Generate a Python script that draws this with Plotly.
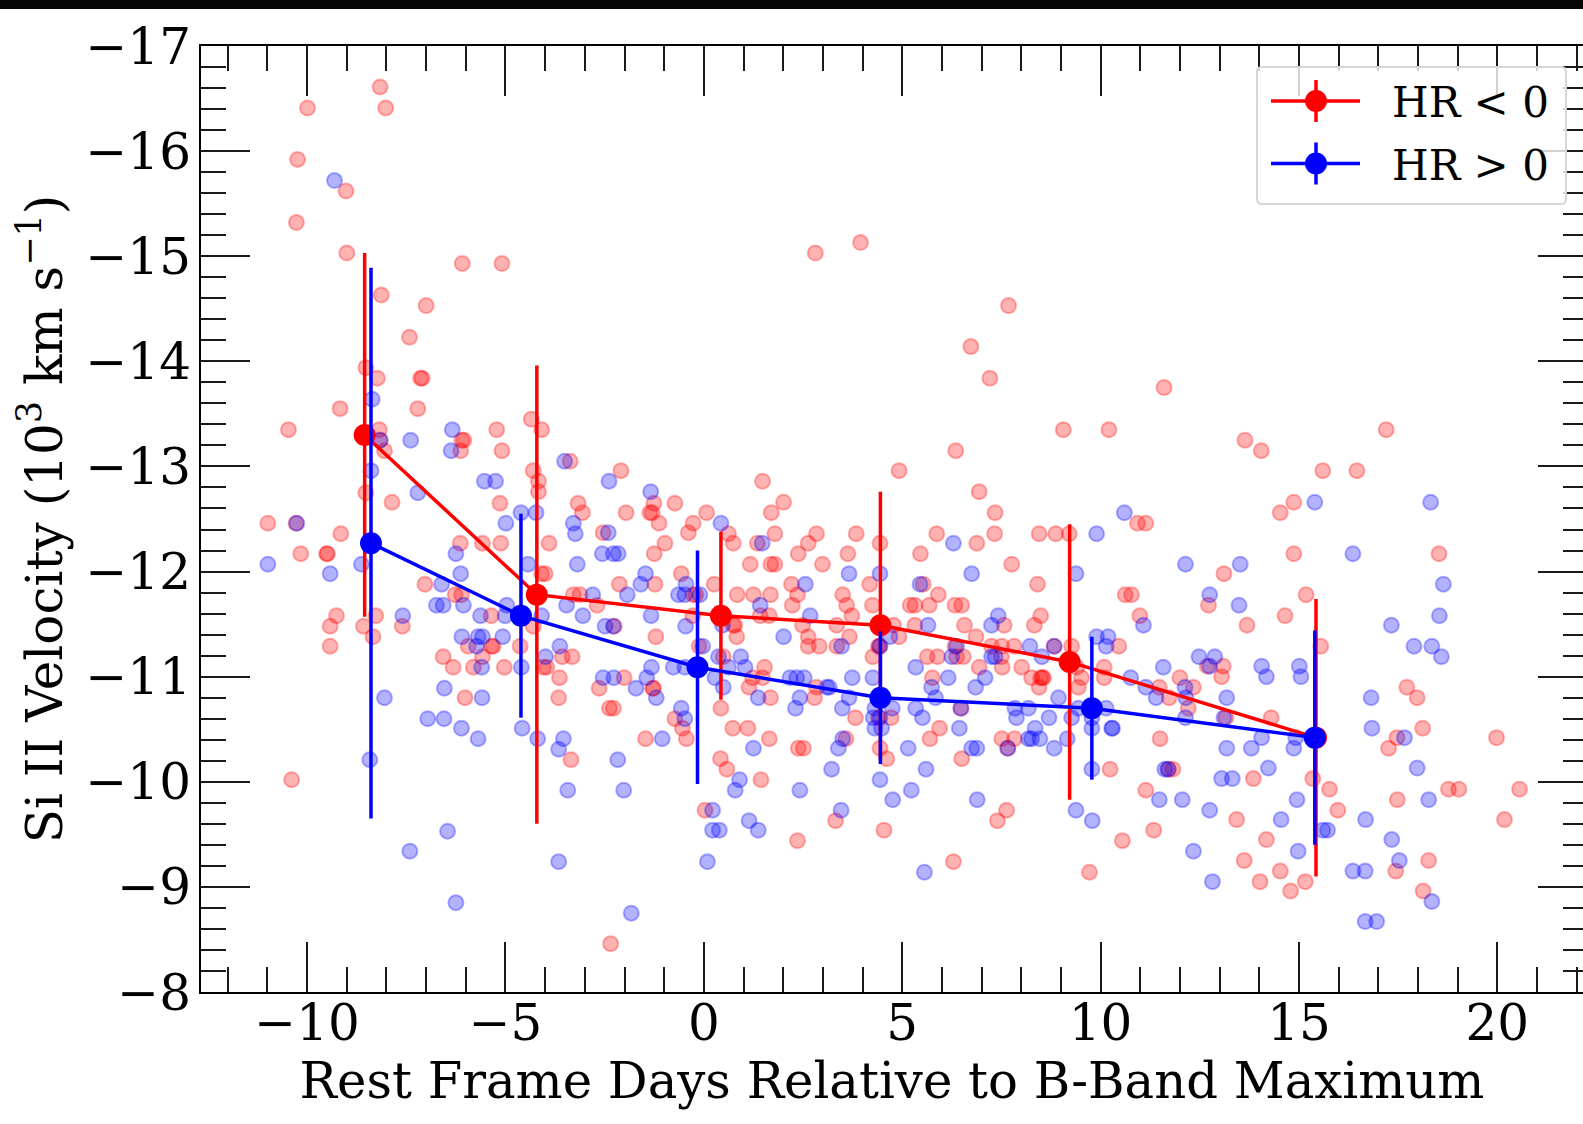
import plotly.graph_objects as go

red_x = [-8.16,-8.02,-9.99,-10.24,-9.02,-10.27,-9.0,-6.09,-5.09,-8.13,-7.0,-7.42,-8.52,-8.23,-7.14,-7.10,-9.17,-7.21,-10.47,-8.18,-5.22,-8.16,-6.1,-6.05,-6.13,-8.05,-5.09,-8.52,-7.86,
 -4.35,-4.09,-3.37,-4.30,-2.09,-4.17,-4.17,
 -10.99,-10.28,-9.15,-10.16,-9.51,-9.49,-9.26,-9.42,-8.58,-8.27,-8.34,-7.60,-9.42,-10.39,-6.14,-5.58,-5.12,-3.90,-5.14,-3.17,-3.06,-1.96,-1.36,-1.30,-1.26,-0.73,-2.54,-1.13,-0.27,-0.39,-0.98,-1.25,-0.57,-2.13,-1.23,-7.03,-6.27,-6.11,-4.09,-4.0,-3.29,-3.12,-2.69,-5.36,-4.30,-2.26,-1.21,-0.12,-0.27,-0.20,-0.28,-5.94,-5.35,-5.31,-4.63,-5.58,-6.57,-6.32,-5.81,-5.03,-4.04,-3.96,-3.57,-3.32,-3.64,-2.01,-2.64,-1.29,-1.27,-6.02,-3.66,-2.38,-2.28,-0.73,-0.54,-1.47,-0.44,-3.35,-2.35,
 0.62,0.74,1.35,1.79,2.84,2.63,3.84,4.44,5.87,6.88,7.33,8.45,8.87,9.21,10.93,11.14,2.38,3.63,5.46,1.17,1.69,1.79,2.99,7.76,0.26,2.21,4.18,5.53,8.41,10.62,10.78,0.84,1.25,1.68,2.36,3.50,5.91,2.23,3.60,4.25,5.20,5.32,5.68,6.33,6.50,1.42,1.65,3.73,8.49,10.99,2.49,3.35,4.78,5.32,6.57,7.57,8.33,0.74,0.78,0.83,2.63,3.67,4.92,6.86,2.63,2.91,3.35,4.40,4.43,6.33,7.25,7.51,7.82,8.83,9.27,10.46,5.63,5.89,6.37,6.54,4.26,7.50,0.49,1.53,6.94,7.52,8.01,9.40,10.09,5.76,1.23,1.48,8.26,8.49,8.53,8.56,9.52,10.09,12.0,1.14,2.84,8.45,9.44,11.48,12.34,1.68,2.79,11.73,0.43,6.48,12.21,3.82,4.40,4.72,0.73,1.11,5.94,1.65,3.58,5.70,7.51,7.83,11.5,2.38,2.51,4.44,7.66,0.42,4.61,6.50,0.58,10.24,11.71,11.82,1.44,11.14,0.03,7.63,3.32,7.40,4.54,11.34,2.36,10.55,6.29,9.72,4.92,1.48,2.01,1.70,0.07,6.94,7.34,
 17.2,13.64,14.05,15.6,16.46,14.87,14.53,14.87,18.53,13.11,15.18,12.72,14.65,13.69,15.55,12.69,13.09,13.05,17.72,17.98,13.16,14.30,18.12,17.47,19.98,17.26,13.85,15.35,15.77,18.77,19.03,20.56,17.48,15.98,13.43,20.18,14.18,13.62,18.27,14.53,17.44,14.02,15.16,14.79,18.13,
 2.81,3.95,7.68,6.73,7.21,11.60,9.06,10.21,6.35]
red_y = [-16.61,-16.41,-16.41,-15.92,-15.62,-15.32,-15.03,-14.93,-14.93,-14.63,-14.53,-14.23,-13.94,-13.84,-13.84,-13.84,-13.55,-13.55,-13.35,-13.35,-13.35,-13.25,-13.25,-13.25,-13.15,-13.15,-13.15,-12.75,-12.66,
 -13.45,-13.35,-13.05,-12.96,-12.96,-12.86,-12.76,
 -12.46,-12.46,-12.36,-12.17,-12.17,-12.17,-11.58,-11.48,-11.48,-11.58,-11.38,-11.48,-11.29,-10.02,-12.27,-12.27,-12.27,-12.27,-12.65,-12.65,-12.56,-12.56,-12.56,-12.56,-12.65,-12.65,-12.37,-12.46,-12.46,-12.37,-12.27,-12.17,-11.98,-11.88,-11.88,-11.88,-11.78,-11.78,-11.98,-11.98,-11.78,-11.78,-11.68,-11.58,-11.48,-11.48,-11.38,-11.29,-11.78,-11.78,-11.58,-11.29,-11.29,-11.29,-11.29,-11.19,-11.19,-11.09,-11.09,-11.09,-11.09,-11.09,-11.19,-11.19,-10.99,-10.99,-10.89,-10.89,-10.89,-10.80,-10.80,-10.70,-10.70,-10.60,-10.51,-10.41,-10.41,-10.21,-8.46,
 -12.36,-12.27,-12.27,-12.36,-12.36,-12.27,-12.36,-12.27,-12.36,-12.27,-12.36,-12.36,-12.36,-12.36,-12.46,-12.46,-12.17,-12.17,-12.17,-12.07,-12.07,-12.07,-12.07,-12.07,-11.88,-11.88,-11.88,-11.88,-11.88,-11.78,-11.78,-11.78,-11.78,-11.78,-11.78,-11.78,-11.78,-11.68,-11.68,-11.68,-11.68,-11.68,-11.68,-11.68,-11.68,-11.58,-11.58,-11.58,-11.58,-11.58,-11.49,-11.49,-11.49,-11.49,-11.49,-11.49,-11.49,-11.49,-11.49,-11.38,-11.38,-11.38,-11.38,-11.38,-11.29,-11.29,-11.29,-11.29,-11.29,-11.29,-11.29,-11.29,-11.29,-11.29,-11.29,-11.29,-11.19,-11.19,-11.19,-11.19,-11.19,-11.19,-11.19,-11.09,-11.09,-11.09,-11.09,-11.09,-11.09,-10.99,-10.99,-10.99,-10.99,-10.99,-10.99,-10.99,-10.99,-10.99,-10.99,-10.90,-10.90,-10.90,-10.90,-10.90,-10.90,-10.80,-10.80,-10.80,-10.70,-10.70,-10.70,-10.61,-10.61,-10.61,-10.51,-10.51,-10.51,-10.41,-10.41,-10.41,-10.41,-10.41,-10.41,-10.32,-10.32,-10.32,-10.32,-10.22,-10.22,-10.22,-10.12,-10.12,-10.12,-10.12,-10.02,-9.92,-9.73,-9.73,-9.63,-9.63,-9.54,-9.54,-9.44,-9.44,-9.24,-9.14,-12.96,-12.86,-12.66,-12.56,-12.56,-12.76,-12.56,
 -13.35,-13.25,-13.15,-12.96,-12.96,-12.66,-12.56,-12.17,-12.17,-11.98,-11.78,-11.68,-11.58,-11.49,-11.29,-11.10,-11.10,-11.0,-10.90,-10.80,-10.61,-10.61,-10.51,-10.42,-10.42,-10.32,-10.03,-10.03,-9.93,-9.93,-9.93,-9.93,-9.83,-9.73,-9.64,-9.64,-9.45,-9.25,-9.25,-9.15,-9.15,-9.05,-9.05,-8.96,-8.96,
 -15.03,-15.13,-14.53,-14.14,-13.84,-13.75,-13.35,-13.35,-13.15]

blue_x = [-9.31,-8.36,-8.16,-7.39,-6.34,-6.37,-8.39,-5.53,-5.25,-7.21,-3.51,-2.39,-1.34,
 -10.99,-10.26,-9.42,-8.63,-6.25,-6.13,-6.61,-6.74,-6.57,-6.06,-7.59,-5.63,-4.97,-5.01,-4.09,-6.10,-5.69,-5.58,-5.07,-5.73,-3.63,-3.99,-5.60,-4.60,-6.54,-5.59,-8.05,-6.96,-6.55,-6.11,-5.69,-4.58,-4.19,-3.54,-3.66,-8.42,-2.17,-3.43,-2.02,-6.46,-7.41,-3.66,-6.25,-1.83,-4.99,-4.61,-4.23,-4.43,-3.29,-3.24,-3.19,-2.56,-2.28,-2.16,-2.41,-2.80,-1.93,-3.46,-3.05,-2.49,-2.28,-1.47,-1.59,-1.33,-0.45,-0.64,-0.48,-0.46,-1.32,-1.44,-0.77,-0.48,-2.54,-2.27,-1.71,-1.20,-0.57,-0.48,-1.05,
 0.43,10.6,1.47,6.29,9.90,12.14,3.66,4.44,6.75,9.38,2.56,5.45,-0.1,1.42,11.08,5.65,2.68,7.42,7.25,0.47,2.01,4.69,9.90,10.19,8.22,8.83,10.14,3.47,6.37,4.44,-0.03,0.37,0.93,8.52,6.25,7.25,7.34,12.48,0.62,1.04,5.34,11.58,0.28,2.17,2.34,2.53,3.74,4.26,6.16,7.09,10.76,0.49,3.10,3.16,5.74,6.85,11.14,12.13,1.37,2.42,3.66,5.84,8.94,11.40,12.15,2.31,3.49,4.31,4.75,5.34,6.48,7.84,8.18,9.44,10.14,4.27,4.44,5.51,7.88,8.70,9.27,9.78,12.14,4.31,4.48,6.44,8.35,9.78,10.28,10.30,3.50,8.18,8.26,8.47,9.16,1.25,3.39,5.15,6.75,6.88,7.66,8.83,3.22,5.60,9.78,11.62,11.70,0.90,4.44,0.79,2.42,5.23,4.76,6.89,11.48,12.06,0.22,3.46,9.38,1.14,9.79,0.22,0.39,1.37,0.09,5.56,12.34,
 15.40,18.32,16.36,13.52,18.64,12.75,13.49,18.54,17.33,17.9,18.35,18.59,12.88,12.75,14.06,15.01,14.18,15.05,13.18,16.82,13.11,16.84,14.06,14.92,17.66,13.18,13.8,14.87,14.23,17.98,13.05,13.32,14.95,18.27,12.75,14.55,16.68,15.6,15.72,17.34,14.98,17.53,12.82,16.36,16.67,18.35,16.67,16.96]
blue_y = [-15.72,-13.64,-13.25,-13.25,-13.35,-13.15,-12.96,-12.86,-12.86,-12.75,-13.05,-12.86,-12.76,
 -12.07,-12.46,-11.98,-12.07,-12.17,-11.98,-11.88,-11.68,-11.68,-11.68,-11.58,-11.58,-11.68,-11.58,-11.58,-11.38,-11.38,-11.38,-11.38,-11.29,-11.29,-11.19,-11.09,-11.09,-10.89,-10.80,-10.80,-10.60,-10.60,-10.51,-10.41,-10.51,-10.41,-10.41,-10.31,-10.21,-10.21,-9.92,-9.92,-9.53,-9.34,-9.24,-8.85,-8.75,-12.46,-12.56,-12.56,-12.07,-12.46,-12.36,-12.07,-12.17,-12.17,-12.17,-12.37,-11.78,-11.78,-11.68,-11.58,-11.48,-11.48,-11.98,-11.88,-11.58,-11.88,-11.78,-11.78,-11.48,-11.09,-10.99,-11.09,-11.09,-10.99,-10.99,-10.89,-10.80,-10.70,-10.60,-10.41,
 -12.46,-12.56,-12.27,-12.27,-12.36,-12.07,-11.98,-11.98,-11.98,-11.98,-11.88,-11.88,-11.78,-11.68,-11.49,-11.49,-11.58,-11.58,-11.49,-11.49,-11.38,-11.38,-11.38,-11.38,-11.29,-11.29,-11.29,-11.29,-11.29,-11.29,-11.29,-11.19,-11.19,-11.19,-11.19,-11.19,-11.19,-11.19,-11.09,-11.09,-11.09,-11.09,-10.99,-10.99,-10.99,-10.99,-10.99,-10.99,-10.99,-10.99,-10.99,-10.90,-10.90,-10.90,-10.90,-10.90,-10.90,-10.90,-10.80,-10.80,-10.80,-10.80,-10.80,-10.80,-10.80,-10.70,-10.70,-10.70,-10.70,-10.70,-10.70,-10.70,-10.70,-10.70,-10.70,-10.61,-10.61,-10.61,-10.61,-10.61,-10.61,-10.61,-10.61,-10.51,-10.51,-10.51,-10.51,-10.51,-10.51,-10.51,-10.41,-10.41,-10.41,-10.41,-10.41,-10.32,-10.32,-10.32,-10.32,-10.32,-10.32,-10.32,-10.12,-10.12,-10.12,-10.12,-10.12,-10.02,-10.02,-9.92,-9.92,-9.92,-9.83,-9.83,-9.83,-9.83,-9.73,-9.73,-9.73,-9.63,-9.63,-9.54,-9.54,-9.54,-9.24,-9.14,-9.34,
 -12.66,-12.66,-12.17,-12.07,-11.88,-11.78,-11.68,-11.58,-11.49,-11.29,-11.29,-11.19,-11.19,-11.10,-11.10,-11.10,-11.0,-11.0,-10.80,-10.80,-10.61,-10.51,-10.42,-10.42,-10.42,-10.32,-10.32,-10.32,-10.13,-10.13,-10.03,-10.03,-9.83,-9.83,-9.73,-9.64,-9.64,-9.54,-9.54,-9.45,-9.34,-9.25,-9.05,-9.15,-9.15,-8.86,-8.67,-8.67]

mean_red_x = [-8.55,-4.21,0.43,4.45,9.22,15.43]
mean_red_y = [-13.30,-11.78,-11.58,-11.49,-11.14,-10.42]
err_red = [1.73,2.18,0.80,1.27,1.31,1.32]
mean_blue_x = [-8.39,-4.61,-0.16,4.45,9.78,15.40]
mean_blue_y = [-12.27,-11.58,-11.09,-10.80,-10.70,-10.42]
err_blue = [2.62,0.97,1.11,0.63,0.68,1.02]

legend_labels = ["HR < 0","HR > 0"]
x_title = "Rest Frame Days Relative to B-Band Maximum"
y_title = "Si II Velocity (10<sup>3</sup> km s<sup>\u22121</sup>)"

W, H = 1583, 1124
L, T, B = 201, 46, 132
SERIF = "DejaVu Serif"
def px(v): return (v - L) / (W - L)
def py(v): return (H - B - v) / (H - B - T)

fig = go.Figure()
def pts(x, y, col):
    fig.add_trace(go.Scatter(x=x, y=y, mode="markers", showlegend=False, hoverinfo="skip",
        marker=dict(size=15, color=col, line=dict(color=col, width=2))))
pts(red_x, red_y, "rgba(255,0,0,0.3)")
pts(blue_x, blue_y, "rgba(0,0,255,0.3)")

def means(x, y, e, col, label):
    fig.add_trace(go.Scatter(x=x, y=y, mode="lines", showlegend=False, hoverinfo="skip",
        line=dict(color=col, width=3.5),
        error_y=dict(type="data", array=e, color=col, thickness=3.5, width=0)))
    fig.add_trace(go.Scatter(x=x, y=y, mode="markers", name=label, hoverinfo="skip", legendgroup=label,
        marker=dict(size=22, color=col)))
means(mean_red_x, mean_red_y, err_red, "#ff0000", legend_labels[0])
means(mean_blue_x, mean_blue_y, err_blue, "#0000ff", legend_labels[1])

# invisible carrier so the top and right tick axes are drawn
fig.add_trace(go.Scatter(x=[0], y=[-12], xaxis="x2", yaxis="y2", mode="markers", showlegend=False,
                         hoverinfo="skip", marker=dict(opacity=0)))

TICK = "#1a1a1a"
X_RANGE = [-12.675, 22.16]
x_common = dict(range=X_RANGE, tickmode="linear", tick0=0, dtick=5, ticks="inside", ticklen=50, tickwidth=2, tickcolor=TICK,
        minor=dict(ticks="inside", ticklen=25, tickwidth=2, tickcolor=TICK, dtick=1, tick0=0, tickmode="linear"),
        showgrid=False, zeroline=False, showline=True, linecolor="black", linewidth=2)
fig.update_layout(
    width=W, height=H, margin=dict(l=L, r=0, t=T, b=B, pad=0), autosize=False,
    paper_bgcolor="white", plot_bgcolor="white",
    font=dict(family=SERIF, color="black"),
    xaxis=dict(**x_common, tickfont=dict(size=50, family=SERIF), ticklabelstandoff=-14,
        title=dict(text=x_title, font=dict(size=49.7, family=SERIF), standoff=4)),
    xaxis2=dict(**x_common, overlaying="x", side="top", anchor="y2", showticklabels=False),
    yaxis=dict(range=[-8, -17], tickmode="linear", tick0=-8, dtick=1, ticks="inside", ticklen=49, tickwidth=2, tickcolor=TICK,
        minor=dict(ticks="inside", ticklen=25, tickwidth=2, tickcolor=TICK, dtick=0.2, tick0=-8, tickmode="linear"),
        showgrid=False, zeroline=False, showline=True, linecolor="black", linewidth=2,
        tickfont=dict(size=50, family=SERIF), ticklabelstandoff=-2,
        title=dict(text=y_title, font=dict(size=50, family=SERIF), standoff=7)),
    yaxis2=dict(range=[-8, -17], overlaying="y", side="right", anchor="x2", tickmode="linear", tick0=-8, dtick=1, ticks="inside", ticklen=45, tickwidth=2,
        tickcolor=TICK, showticklabels=False, showgrid=False, zeroline=False, showline=False,
        minor=dict(ticks="inside", ticklen=20, tickwidth=2, tickcolor=TICK, dtick=0.2, tick0=-8, tickmode="linear")),
    legend=dict(x=px(1236), y=py(67), xanchor="left", yanchor="top", bgcolor="rgba(0,0,0,0)", borderwidth=0,
        itemwidth=146, tracegroupgap=5, font=dict(size=42, family=SERIF), traceorder="grouped"),
)

shapes = [dict(type="rect", xref="paper", yref="paper", x0=px(0), x1=px(W), y0=py(0), y1=py(9),
               fillcolor="#050505", line=dict(width=0), layer="above")]
x0, x1, y0, y1, r = 1257, 1566, 67, 204, 5
path = (f"M{px(x0+r)},{py(y0)} L{px(x1-r)},{py(y0)} Q{px(x1)},{py(y0)} {px(x1)},{py(y0+r)} "
        f"L{px(x1)},{py(y1-r)} Q{px(x1)},{py(y1)} {px(x1-r)},{py(y1)} L{px(x0+r)},{py(y1)} "
        f"Q{px(x0)},{py(y1)} {px(x0)},{py(y1-r)} L{px(x0)},{py(y0+r)} Q{px(x0)},{py(y0)} {px(x0+r)},{py(y0)} Z")
shapes.append(dict(type="path", xref="paper", yref="paper", path=path, fillcolor="rgba(255,255,255,0.8)",
                   line=dict(color="#d6d6d6", width=2), layer="above"))
for cy, col in ((101, "#ff0000"), (163.5, "#0000ff")):
    shapes.append(dict(type="line", xref="paper", yref="paper", x0=px(1271), x1=px(1360), y0=py(cy), y1=py(cy),
                       line=dict(color=col, width=3.5), layer="above"))
    shapes.append(dict(type="line", xref="paper", yref="paper", x0=px(1316), x1=px(1316), y0=py(cy-21), y1=py(cy+21),
                       line=dict(color=col, width=3.5), layer="above"))
    shapes.append(dict(type="circle", xref="paper", yref="paper", x0=px(1305), x1=px(1327), y0=py(cy+11), y1=py(cy-11),
                       fillcolor=col, line=dict(width=0), layer="above"))
fig.update_layout(shapes=shapes)

fig.write_html("out.html", config=dict(displayModeBar=False),
               post_script="document.body.style.margin='0';document.body.style.overflow='hidden';")
